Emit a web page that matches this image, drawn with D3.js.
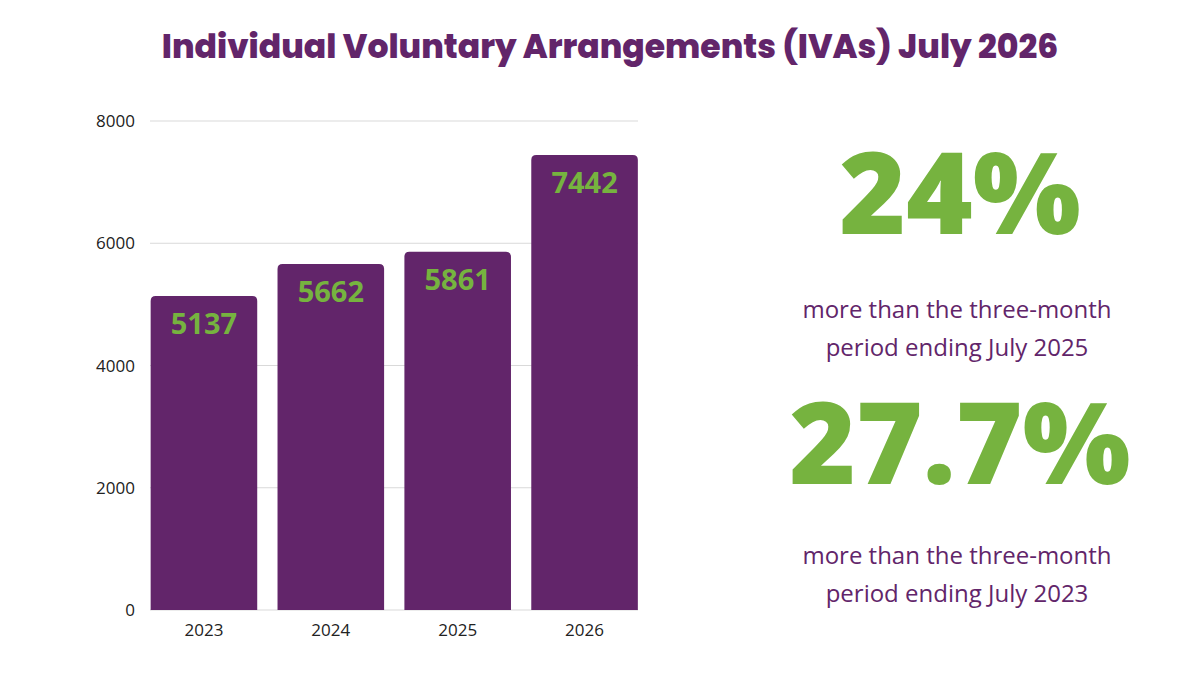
<!DOCTYPE html>
<html><head><meta charset="utf-8">
<script src="https://cdn.jsdelivr.net/npm/d3@7"></script>
<style>body{margin:0;background:#fff}svg{display:block}</style>
</head><body>
<svg id="c" width="1200" height="675"></svg>
<script>
const years = ["2023","2024","2025","2026"];
const values = [5137,5662,5861,7442];
const yTicks = [0,2000,4000,6000,8000];
const purple = "#62256a", green = "#76b33f";
const svg = d3.select("#c");
svg.append("text").attr("x",610).attr("y",58).attr("text-anchor","middle")
  .attr("font-family","Poppins, 'Open Sans', sans-serif").attr("font-weight",800)
  .attr("font-size",33).attr("fill",purple).text("Individual Voluntary Arrangements (IVAs) July 2026");
const x = d3.scaleBand().domain(years).range([140.5,648]).paddingInner(0.16).paddingOuter(0.08);
const y = d3.scaleLinear().domain([0,8000]).range([610,121]);
const g = svg.append("g");
g.selectAll("line.grid").data(yTicks).join("line").attr("x1",150).attr("x2",638)
  .attr("y1",d=>y(d)).attr("y2",d=>y(d)).attr("stroke","#d9d9d9").attr("stroke-width",1);
g.selectAll("text.tick").data(yTicks).join("text").attr("x",135).attr("y",d=>y(d)+6)
  .attr("text-anchor","end").attr("font-family","'Open Sans',sans-serif").attr("font-size",17)
  .attr("fill","#222").text(d=>d);
const r=5;
g.selectAll("path.bar").data(values).join("path").attr("fill",purple).attr("d",(d,i)=>{
  const x0=x(years[i]), w=x.bandwidth(), t=y(d), b=y(0);
  return `M${x0},${b}V${t+r}Q${x0},${t} ${x0+r},${t}H${x0+w-r}Q${x0+w},${t} ${x0+w},${t+r}V${b}Z`;});
g.selectAll("text.val").data(values).join("text").attr("x",(d,i)=>x(years[i])+x.bandwidth()/2)
  .attr("y",d=>y(d)+38).attr("text-anchor","middle").attr("font-family","'Open Sans',sans-serif")
  .attr("font-weight",700).attr("font-size",29).attr("fill",green).text(d=>d);
g.selectAll("text.year").data(years).join("text").attr("x",d=>x(d)+x.bandwidth()/2).attr("y",636)
  .attr("text-anchor","middle").attr("font-family","'Open Sans',sans-serif").attr("font-size",17)
  .attr("fill","#222").text(d=>d);
const stats=[{v:"24%",y:234,l:["more than the three-month","period ending July 2025"],ly:318},
             {v:"27.7%",y:484,l:["more than the three-month","period ending July 2023"],ly:564}];
stats.forEach(s=>{
  svg.append("text").attr("x",960).attr("y",s.y).attr("text-anchor","middle")
    .attr("font-family","'Open Sans',sans-serif").attr("font-weight",800).attr("font-size",114)
    .attr("fill",green).text(s.v);
  s.l.forEach((t,i)=>svg.append("text").attr("x",957).attr("y",s.ly+i*38).attr("text-anchor","middle")
    .attr("font-family","'Open Sans',sans-serif").attr("font-size",24).attr("fill",purple).text(t));
});
</script></body></html>
